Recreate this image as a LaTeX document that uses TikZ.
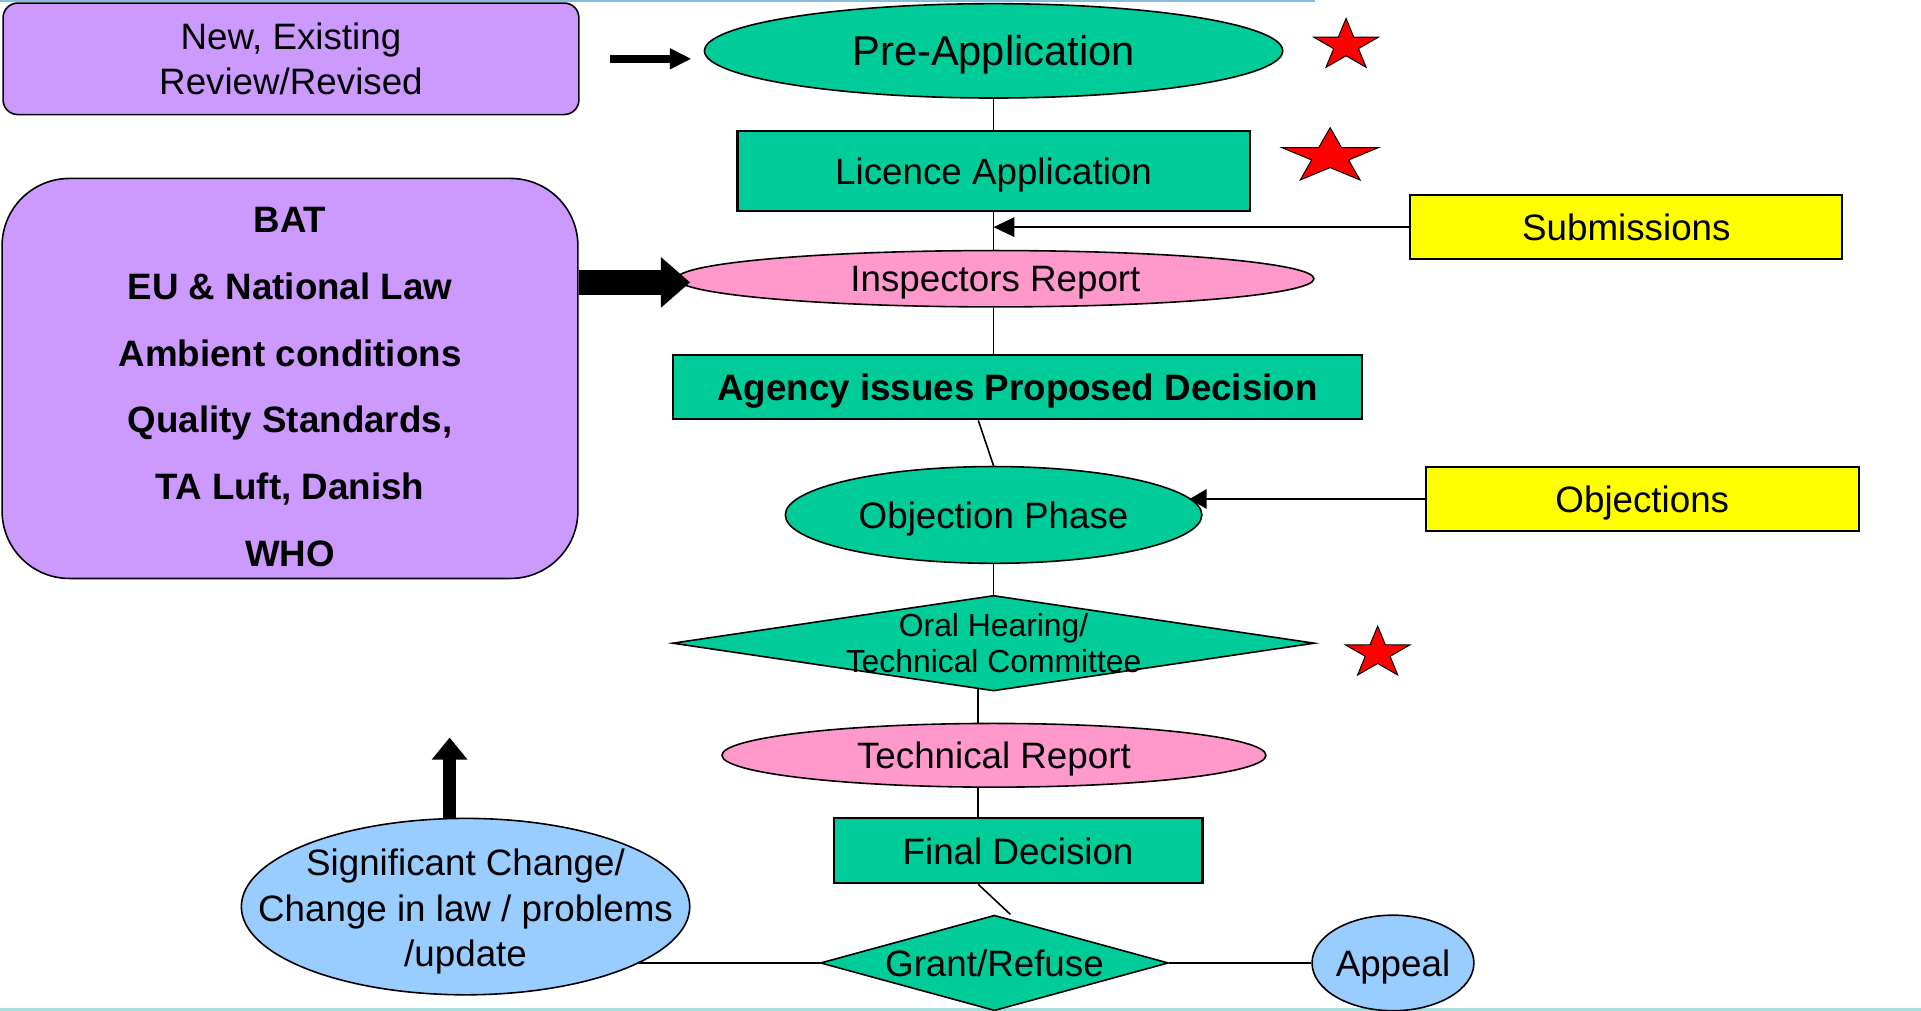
\documentclass[tikz,border=0pt]{standalone}
\usepackage{fontspec}
\setmainfont{Liberation Sans}
\usetikzlibrary{shapes.geometric, arrows.meta, calc}
\definecolor{grn}{HTML}{00CC99}
\definecolor{pur}{HTML}{CC99FF}
\definecolor{pnk}{HTML}{FF99CC}
\definecolor{ylw}{HTML}{FFFF00}
\definecolor{lbl}{HTML}{99CCFF}
\definecolor{topblue}{HTML}{86BCE0}
\definecolor{botteal}{HTML}{A6E0DA}
\tikzset{
  base/.style={draw=black, inner sep=0pt, font=\fontsize{30}{37}\selectfont},
  rect/.style={base, rectangle, line width=1.7pt, text height=21.5pt, text depth=0pt},
  rbox/.style={base, rectangle, line width=1.3pt},
  ell/.style={base, ellipse, line width=1.3pt, text height=21.5pt, text depth=0pt},
  dia/.style={base, diamond, line width=1.3pt},
  lab/.style={inner sep=0pt, align=center},
  con/.style={line width=1.3pt},
  redstar/.pic={\filldraw[fill=red, draw=black, line width=0.8pt]
     (90:1) -- (126:0.382) -- (162:1) -- (198:0.382) -- (234:1) -- (270:0.382)
     -- (306:1) -- (342:0.382) -- (18:1) -- (54:0.382) -- cycle;}
}
\begin{document}
\begin{tikzpicture}[x=1pt,y=-1pt]
\useasboundingbox (0,0) rectangle (1568,825);
% slide edges
\draw[line width=2pt, topblue] (0,1) -- (1073,1);
\draw[line width=2pt, botteal] (0,824) -- (1568,824);

% nodes
\node[rbox, fill=pur, rounded corners=12pt, minimum width=470pt, minimum height=91pt, align=center] (newb) at (237.5,48) {New, Existing\\Review/Revised};
\node[ell, fill=grn, minimum width=472pt, minimum height=77pt, font=\fontsize{34}{40}\selectfont, text height=24.3pt] (pre) at (811,41.5) {Pre-Application};
\node[rect, fill=grn, minimum width=418pt, minimum height=65pt] (lic) at (811,139.5) {Licence Application};
\node[rect, fill=ylw, minimum width=352.5pt, minimum height=52.5pt] (sub) at (1327.5,185.4) {Submissions};
\node[ell, fill=pnk, minimum width=520pt, minimum height=46pt] (insp) at (812.5,227.5) {Inspectors Report};
\node[rbox, fill=pur, rounded corners=55pt, minimum width=470pt, minimum height=326.5pt] (bat) at (236.7,308.9) {};
\node[lab, font=\fontsize{30}{54.4}\selectfont\bfseries] (battxt) at (236.7,316) {BAT\\EU \& National Law\\Ambient conditions\\Quality Standards,\\TA Luft, Danish\\WHO};
\node[rect, fill=grn, minimum width=562pt, minimum height=52.5pt, font=\fontsize{30}{37}\selectfont\bfseries] (ag) at (830.5,316) {Agency issues Proposed Decision};
\node[ell, fill=grn, minimum width=340pt, minimum height=79pt] (objph) at (811,420.3) {Objection Phase};
\node[rect, fill=ylw, minimum width=353pt, minimum height=52.5pt] (objx) at (1340.5,407.3) {Objections};
\node[dia, fill=grn, minimum width=524pt, minimum height=78pt,
      label={[lab, font=\fontsize{26}{30}\selectfont]center:{Oral Hearing/\\Technical Committee}}] (oral) at (811,525) {};
\node[ell, fill=pnk, minimum width=444pt, minimum height=52pt] (tr) at (811.3,616.5) {Technical Report};
\node[rect, fill=grn, minimum width=301pt, minimum height=53pt] (fin) at (831,694.5) {Final Decision};
\node[dia, fill=grn, minimum width=284pt, minimum height=78pt,
      label={[lab, font=\fontsize{30}{37}\selectfont, text height=21.5pt, text depth=0pt]center:{Grant/Refuse}}] (grant) at (811.7,786) {};
\node[ell, fill=lbl, minimum width=130pt, minimum height=78pt] (app) at (1137,786) {Appeal};
\node[ell, fill=lbl, minimum width=366pt, minimum height=144pt, text height=0pt,
      label={[lab, font=\fontsize{30}{37}\selectfont, yshift=-4pt]center:{Significant Change/\\Change in law / problems\\/update}}] (sig) at (380,740) {};

% stars
\pic[xscale=27.9, yscale=-22.1] at (1098.7,37.1) {redstar};
\pic[xscale=41.5, yscale=-23.6] at (1085.7,127.8) {redstar};
\pic[xscale=27.9, yscale=-22.1] at (1124.5,533.1) {redstar};

% axis coordinates
\coordinate (ax) at (798.5,0);
\coordinate (uptip) at (367,602);

% connectors
\draw[con] (pre.south) -- (lic.north);
\draw[con] (lic.south) -- (lic.south |- insp.north);
\draw[con, -{Triangle[length=17pt,width=16pt]}] (sub.west) -- (sub.west -| lic.south);
\draw[con] (lic.south |- insp.south) -- (lic.south |- ag.north);
\draw[con] (ag.south -| ax) -- (objph.north);
\draw[con] (objph.south) -- (oral.north);
\draw[con, shorten <=-2pt] (ax |- oral.south) -- (ax |- tr.north);
\draw[con] (ax |- tr.south) -- (ax |- fin.north);
\draw[con] (ax |- fin.south) -- ($(grant.north)+(13,0)$);
\draw[con] (grant.west) -- (grant.west -| sig.-18);
\draw[con] (grant.east) -- (app.west);
\draw[con, -{Triangle[length=14pt,width=16pt]}] (objx.west) -- (objx.west -| objph.5);

% thick arrows
\draw[line width=7pt, -{Triangle[length=17.5pt,width=16pt]}, shorten <=25pt, shorten >=10pt] (newb.east) -- (newb.east -| pre.west);
\draw[line width=20pt, -{Triangle[length=24pt,width=40pt]}, shorten >=-11.5pt] ($(bat.east |- insp.west)+(0,3)$) -- ($(insp.west)+(0,3)$);
\draw[line width=11pt, -{Triangle[length=18pt,width=28pt]}] (sig.north -| uptip) -- (uptip);
\end{tikzpicture}
\end{document}
